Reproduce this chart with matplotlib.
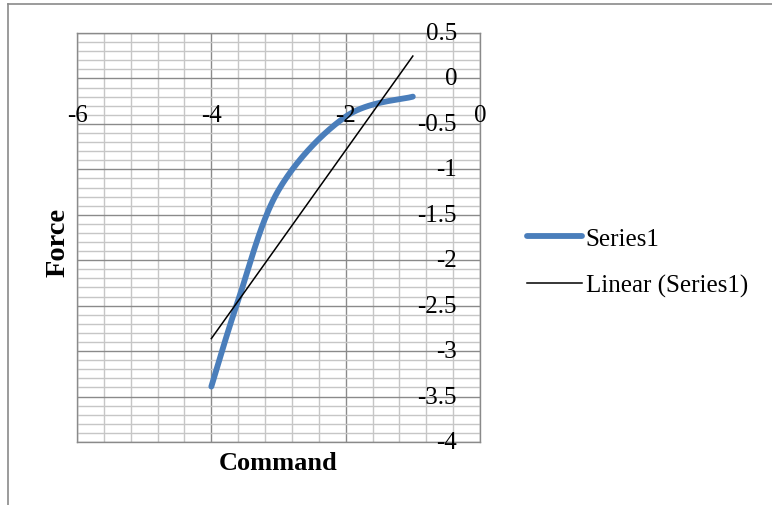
import numpy as np
import matplotlib
matplotlib.use("Agg")
import matplotlib.pyplot as plt
from matplotlib.ticker import MultipleLocator
from matplotlib.lines import Line2D

# measured force vs. command
command = [-4.0, -3.6, -3.0, -2.0, -1.0]
force = [-3.39, -2.44, -1.23, -0.42, -0.20]

x_ticks = [-6, -4, -2, 0]
y_ticks = [0.5, 0, -0.5, -1, -1.5, -2, -2.5, -3, -3.5, -4]

plt.rcParams['font.family'] = ['Liberation Serif', 'DejaVu Serif']


def smooth_line(xs, ys, n=40):
    # spreadsheet-style smoothed line: cubic bezier through each point
    pts = np.column_stack([xs, ys])
    pad = np.vstack([pts[0], pts, pts[-1]])
    t = np.linspace(0, 1, n)[1:, None]
    out = [pts[:1]]
    for i in range(len(pts) - 1):
        p0 = pad[i + 1]
        p3 = pad[i + 2]
        c1 = p0 + (pad[i + 2] - pad[i]) / 6.0
        c2 = p3 - (pad[i + 3] - pad[i + 1]) / 6.0
        seg = ((1 - t) ** 3) * p0 + 3 * ((1 - t) ** 2) * t * c1 \
            + 3 * (1 - t) * (t ** 2) * c2 + (t ** 3) * p3
        out.append(seg)
    return np.vstack(out)


W, H = 772, 506
fig = plt.figure(figsize=(W / 100, H / 100), dpi=100)
ax = fig.add_axes([77 / W, 1 - 443 / H, (480 - 77) / W, (443 - 34) / H])

ax.set_xlim(-6, 0)
ax.set_ylim(-4, 0.5)

ax.xaxis.set_major_locator(MultipleLocator(2))
ax.xaxis.set_minor_locator(MultipleLocator(0.4))
ax.yaxis.set_major_locator(MultipleLocator(0.5))
ax.yaxis.set_minor_locator(MultipleLocator(0.1))
ax.grid(which='minor', color='#c6c6c6', linewidth=1.0)
ax.grid(which='major', color='#8a8a8a', linewidth=1.0)
ax.set_axisbelow(True)
ax.tick_params(which='both', length=0, labelbottom=False, labelleft=False)
for s in ax.spines.values():
    s.set_color('#8a8a8a')
    s.set_linewidth(1.0)

# data and linear trend
sm = smooth_line(command, force)
ax.plot(sm[:, 0], sm[:, 1], color='#4a7ebb', linewidth=4.2,
        solid_capstyle='round', label='Series1', zorder=3)
k, b = np.polyfit(command, force, 1)
tx = np.array([min(command), max(command)])
ax.plot(tx, k * tx + b, color='black', linewidth=1.1,
        label='Linear (Series1)', zorder=4)

# axis labels sit next to the axes crossing at the origin
for v in y_ticks:
    ax.annotate('{:g}'.format(v), xy=(0, v), xytext=(-23, 0),
                textcoords='offset pixels', ha='right', va='center',
                fontsize=18, annotation_clip=False)
for v in x_ticks:
    ax.annotate('{:g}'.format(v), xy=(v, 0), xytext=(0, -37),
                textcoords='offset pixels', ha='center', va='center',
                fontsize=18, annotation_clip=False)

fig.text(278.5 / W, 1 - 463 / H, 'Command', ha='center', va='center',
         fontsize=19, fontweight='bold')
fig.text(58 / W, 1 - 242 / H, 'Force', ha='center', va='center',
         rotation=90, fontsize=20.5, fontweight='bold')

ax.legend(loc='center left', bbox_to_anchor=(527 / W, 1 - 263 / H),
          bbox_transform=fig.transFigure, frameon=False, fontsize=18,
          borderpad=0, borderaxespad=0, handlelength=2.2,
          handletextpad=0.15, labelspacing=0.95)

# chart border
fig.add_artist(Line2D([8 / W, 1], [1 - 5 / H, 1 - 5 / H], color='#8a8a8a',
                      linewidth=1.2, transform=fig.transFigure))
fig.add_artist(Line2D([8 / W, 8 / W], [0, 1 - 5 / H], color='#8a8a8a',
                      linewidth=1.2, transform=fig.transFigure))

fig.savefig('out.png', dpi=100)
